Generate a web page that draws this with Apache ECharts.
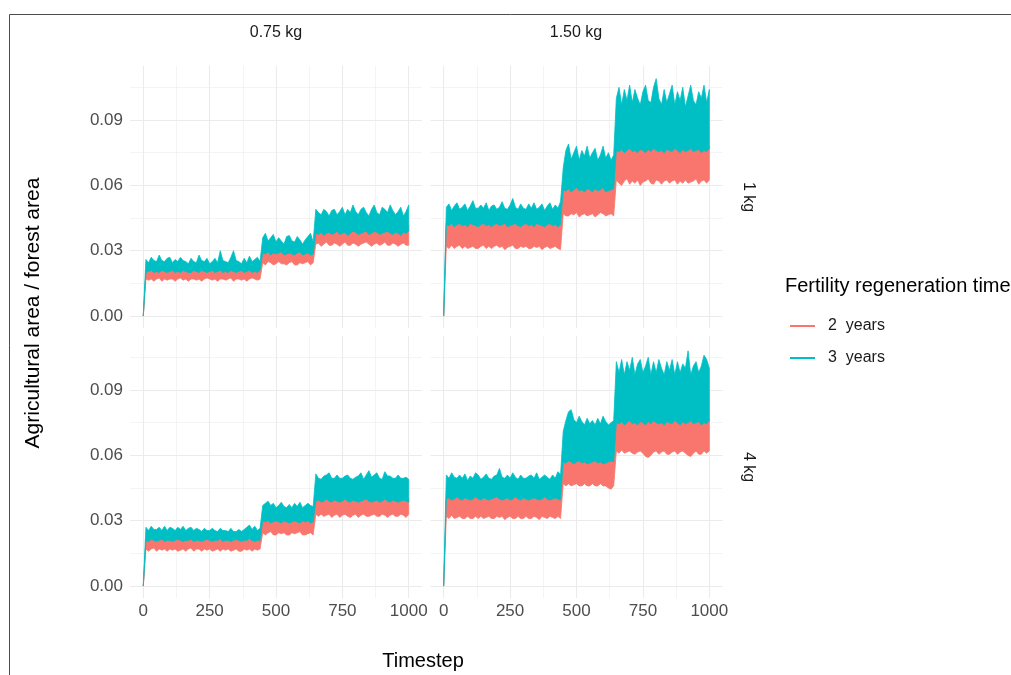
<!DOCTYPE html>
<html>
<head>
<meta charset="utf-8">
<script src="https://cdn.jsdelivr.net/npm/echarts@6/dist/echarts.min.js"></script>
<style>
  html, body { margin: 0; padding: 0; background: #fff; }
  #chart { width: 1011px; height: 675px; }
</style>
</head>
<body>
<div id="chart"></div>
<script>
// timesteps sampled every 10 steps, values below are in thousandths (x 0.001)
var timesteps = [0,10,20,30,40,50,60,70,80,90,100,110,120,130,140,150,160,170,180,190,200,
  210,220,230,240,250,260,270,280,290,300,310,320,330,340,350,360,370,380,390,400,
  410,420,430,440,450,460,470,480,490,500,510,520,530,540,550,560,570,580,590,600,
  610,620,630,640,650,660,670,680,690,700,710,720,730,740,750,760,770,780,790,800,
  810,820,830,840,850,860,870,880,890,900,910,920,930,940,950,960,970,980,990,1000];

var xTicks = [0, 250, 500, 750, 1000];
var xMinor = [125, 375, 625, 875];
var yTicks = [0, 0.03, 0.06, 0.09];
var yMinor = [0.015, 0.045, 0.075, 0.105];

var cols = ['0.75 kg', '1.50 kg'];
var rows = ['1 kg', '4 kg'];
var groups = ['2  years', '3  years'];

// panel 0.75 kg / 1 kg : lower and upper edge of each noisy trace
var aRedLo = [0,
  17,16.5,17,16,17,17.5,16,17,16.5,17, 17,16,17,17.5,16.5,17,16,17,17,16.5,
  17,16,17,17.5,17,16.5,17,16,17,17, 16.5,17,17.5,16,17,17,16.5,17,16,17, 17.5,17,16.5,17,
  24.5,23.5,25,24.5,23.5,24,25,24,24,23.5, 24.5,25,23.5,23.5,24.5,24,24.5,25,23.5,24.5,
  33,33.5,32,33,34,32.5,32.5,33.5,33,32, 33,34,32.5,32.5,33.5,33,32,33,33.5,34,
  33,32,33,33.5,32.5,33,34,32.5,32.5,33.5, 33,32,33,33.5,32.5,32.5];
var aRedHi = [0,
  21.5,22,21,21.5,22,21.5,21,22,21.5,21, 22,21.5,21,21.5,22,21,21.5,22,21.5,21,
  21.5,22,21,21.5,21,22,21.5,21,22,21.5, 21,21.5,22,21,21.5,22,21,21.5,22,21.5, 21,22,21.5,22,
  30.5,31,30,30.5,31,30,30.5,31,30.5,30, 31,30.5,30,31,30.5,30,31,30.5,30,31,
  40,40.5,39.5,40,41,40,39.5,40.5,40,41, 40,39.5,40.5,41,40,39.5,40,40.5,41,40,
  39.5,40.5,40,41,40,39.5,40.5,40,41,40, 39.5,40,40.5,41,40,41.5];
var aTealLo = [0,
  20,20.5,21,20,20.5,20,21,20.5,20,20.5, 21,20,20.5,20,21,20.5,20,20,21,20.5,
  20,21,20.5,20,20.5,21,20,20.5,21,20, 20.5,20,21,20.5,20,20.5,21,20,20.5,21, 20,20.5,20,21,
  29,28.5,29.5,28,29,28.5,29,29.5,28,28.5, 29,28.5,28,29,29.5,28,28.5,29,28,28.5,
  38,37.5,38.5,37,38,38.5,37.5,38,39,37.5, 38,38.5,37,38,39,38.5,37.5,38,38.5,39,
  37.5,38,39,38.5,37.5,38,38.5,39,38,37.5, 38.5,38,37,38.5,38,39];
var aTealHi = [0,
  26,24.5,27,25.5,25,28,25.5,25,26.5,27, 24.5,26,25,27,25.5,25,24,26.5,25,24.5,
  28,25.5,25,26.5,24,25,26.5,24.5,30,25.5, 25,24.5,27,30,25.5,25,24,26.5,24.5,27.5, 25,26,27,25,
  36,38,34.5,36,37.5,34,36,34.5,33,36.5, 37,34.5,34,36.5,35,33,35,36.5,38,34,
  49,47.5,46.5,49,48,46,48.5,49,46.5,48, 50,46.5,49,47.5,51,48,46.5,49,50,47.5,
  46,49,51,47.5,46.5,50,49,47.5,51,48.5, 46.5,48,50,46,48,51];

// panel 1.50 kg / 1 kg
var bRedLo = [0,
  32,31,32.5,31,32,32.5,31,32,31,31.5, 32,31,31,32,32.5,31,32,31,32,32.5,
  31.5,32,30.5,31.5,32,32.5,31,31,32,31.5, 32,31,31,32,31.5,32,30.5,31.5,32,31, 31.5,32,31,30.5,
  47,46,46,47,46.5,47.5,45.5,46.5,47,46, 46.5,47,45.5,46.5,47.5,47,46,46.5,47,46,
  62.5,61,60,62,63,60.5,62,61,62.5,60, 61.5,62,63,61,60.5,62.5,62,60.5,62,62.5,
  61,62,62.5,60.5,62,61,62.5,61,61.5,62, 63,60.5,62,62.5,61,62.5];
var bRedHi = [0,
  43,43.5,42.5,43,44,43,42.5,43.5,43,42.5, 43,44,43,42.5,43.5,43,42.5,43,43.5,44,
  43,42.5,43,43.5,42.5,43,44,43,42.5,43.5, 43,42.5,43,43.5,43,42.5,43,44,43,42.5, 43,43.5,43,42.5,
  60,61,60.5,60,61,59.5,60,60.5,61,60, 59.5,60,61,60.5,60,59.5,61,60,60.5,61,
  77.5,78,77,78.5,77.5,77,78,79,77.5,77, 78,77.5,77,78,77.5,78.5,77,77.5,78,77,
  77.5,78,78.5,77,77.5,78,77,77.5,78,78.5, 77,77.5,78,77,77.5,78];
var bTealLo = [0,
  42,41.5,42.5,41,42,42.5,41.5,42,41,42.5, 42,41.5,41,42,42.5,41.5,42,41,42,42.5,
  41.5,42,42.5,41,41.5,42,42.5,41.5,41,42, 42.5,41.5,42,41,42.5,42,41.5,41,42,42.5, 41.5,42,41,42,
  58,57.5,58.5,57,58,59,57.5,58,57,58.5, 58,57,58.5,57.5,58,59,57,57.5,58,58.5,
  76,75.5,76.5,75,76,77,75.5,76,75,76.5, 76,75,76.5,75.5,77,76,75.5,76,75,76.5,
  76,75.5,77,76,75,76.5,75.5,76,77,75.5, 76,76.5,75,76,75.5,77];
var bTealHi = [0,
  50,51.5,48.5,50.5,52,49,50,51.5,48.5,50.5, 53,49.5,49.5,51,49.5,52,48.5,50.5,51,49,
  50,52.5,49.5,49,51,54,50,49,51.5,49.5, 49,51.5,49.5,52,49,50,51.5,48.5,50.5,52, 49,51,49.5,52.5,
  68,76,79,72,75,78,71.5,76,73.5,78, 72.5,75,77,71.5,74,78,72.5,75,71.5,74,
  100,105,97,104,99,106,98,104,100,97, 103,106,99,98,105,109,100,97,104,98,
  102,106,97,103,99,105,96,101,106,99, 97,103,100,106,98,104];

// panel 0.75 kg / 4 kg
var cRedLo = [0,
  17,16,17,17.5,16,17,16.5,17,16,17, 16.5,17,16,16.5,17,16,17,17.5,16,17,
  17,16,17,16.5,17,16,16.5,17,16,17, 16.5,17,16,16.5,17,16,16,17,16.5,17, 16,17,16.5,17,
  24.5,23.5,24.5,25,23.5,23.5,24.5,24,24.5,23.5, 23.5,24.5,24,24.5,25,23.5,23.5,24,24.5,23.5,
  33,32,33,32,32.5,33,31.5,32.5,33,31.5, 32.5,33,32,31.5,32.5,33,31.5,32.5,33,32,
  32,32.5,33,32,32,33,32.5,31.5,32.5,33, 32,32,33,32.5,31.5,33];
var cRedHi = [0,
  21.5,22,21.5,21,22,21.5,22,21,21.5,22, 21.5,21,22,21.5,21,22,21.5,22,21,21.5,
  22,21.5,21,22,21.5,21,22,21.5,21,22, 21.5,21,22,21.5,22,21,21.5,22,21.5,21, 22,21.5,21,22,
  31,30.5,30,31,30.5,31,30,30.5,31,30.5, 30,31,30.5,30,31,30.5,30,31,30.5,31,
  41,41.5,40.5,41,42,41,40.5,41.5,41,40.5, 41,42,41,40.5,41.5,41,40.5,41,41.5,42,
  41,40.5,41,41.5,40.5,41,42,41,40.5,41.5, 41,40.5,41,41.5,41,40.5];
var cTealLo = [0,
  21,20.5,21.5,21,20.5,21,21.5,20.5,21,21, 20.5,21,21.5,21,20.5,21,21,21.5,20.5,21,
  21,20.5,21,21.5,21,20.5,21,21,21.5,20.5, 21,21,20.5,21,21.5,21,20.5,21,21,21.5, 21,20.5,21,21,
  30,29.5,30,29,29.5,30,29.5,29,30,29.5, 29,29.5,30,29.5,29,30,29.5,30,29,29.5,
  39,39.5,38.5,39,40,39,38.5,39.5,39,38.5, 39,40,39,38.5,39.5,39,38.5,39,39.5,40,
  39,38.5,39,39.5,38.5,39,40,39,38.5,39.5, 39,38.5,39,39.5,39,38.5];
var cTealHi = [0,
  27,25.5,27.5,26,26,27,25.5,27.5,25.5,27, 26.5,25.5,27,26,27.5,25.5,26.5,27,25.5,26.5,
  26,25,26.5,25.5,25.5,26.5,25.5,25,26.5,25.5, 25.5,25,26.5,25,25,26,25,26,27,28, 26,27.5,25.5,26.5,
  37,38,39,37,38,36,37,38.5,36.5,36, 37.5,36,38,36.5,38.5,36,37,38,37,36.5,
  51.5,49.5,49,50.5,51,52,49.5,49.5,51,49.5, 49.5,50.5,51,49.5,49,50,50.5,52,49,51,
  53,50,51,52,49.5,49,52.5,50.5,50.5,49.5, 49.5,51,49.5,49.5,50,49];

// panel 1.50 kg / 4 kg
var dRedLo = [0,
  32,31,32.5,31,31.5,32,31,31,32,31, 31,32,31,32,31,31.5,32,31,31,32,
  31.5,32,30.5,31.5,32,31,31,32,31,31, 32,31,31,32,31.5,30.5,32,31.5,31,32, 31.5,31,32,31,
  47,46,47,46,46.5,47,46,46,47,46, 46,47,46,46,47,46,46,45,44.5,46,
  62,61,62.5,61,61.5,62,61,60.5,61.5,62, 61,59.5,59,60,61.5,62,60.5,61.5,62,60.5,
  60.5,61.5,62,60.5,61.5,62,61,60,59.5,61, 62,60.5,60.5,62,61,62];
var dRedHi = [0,
  41.5,42,41,41.5,42,41.5,41,42,41.5,41, 42,41.5,41,42,41.5,42,41,41.5,42,41.5,
  41,42,41.5,41,42,41.5,41,42,41.5,42, 41,41.5,42,41.5,41,42,41.5,41,42,41.5, 41,42,41.5,42,
  59,59.5,58.5,59,60,59,58.5,59.5,59,58.5, 59,60,59,58.5,59.5,59,58.5,59,59.5,60,
  77,77.5,76.5,77,78,77,76.5,77.5,77,76.5, 77,78,77,76.5,77.5,77,76.5,77,77.5,78,
  77,76.5,77,77.5,76.5,77,78,77,76.5,77.5, 77,76.5,77,77.5,77,76.5];
var dTealLo = [0,
  40,40.5,39.5,40,41,40,39.5,40.5,40,39.5, 40,41,40,39.5,40.5,40,39.5,40,40.5,41,
  40,39.5,40,40.5,39.5,40,41,40,39.5,40.5, 40,39.5,40,40.5,40,39.5,40,41,40,39.5, 40,40.5,40,39.5,
  57,56.5,57.5,57,56,57,57.5,56.5,57,56, 56.5,57,57.5,56.5,57,56,56.5,57,57.5,57,
  75,74.5,75.5,74,75,76,74.5,75,74,75.5, 75,74,75.5,74.5,76,75,74.5,75,74,75.5,
  75,74.5,76,75,74,75.5,74.5,75,76,74.5, 75,75.5,74,75,74.5,76];
var dTealHi = [0,
  51,49.5,52,50,49.5,51,49.5,51.5,48.5,50.5, 49.5,52,51,49,50,51.5,49.5,49,50.5,51,
  54,50,49.5,51,49.5,52,50,49,51,49.5, 49.5,50.5,51,49.5,52,49,50,51,50,49, 51,49.5,52.5,51,
  71,76,80,81,76.5,75,78,75.5,74,77, 74.5,76,74,77,74.5,78,75.5,74,75,76,
  103,98,104,97,103,99,105,97,102,104, 98,101,105,97,103,98,104,100,97,103,
  99,104,97,103,98,102,100,108,97,101, 103,98,101,106,104,100];

var panels = [
  { red: [aRedLo, aRedHi], teal: [aTealLo, aTealHi] },
  { red: [bRedLo, bRedHi], teal: [bTealLo, bTealHi] },
  { red: [cRedLo, cRedHi], teal: [cTealLo, cTealHi] },
  { red: [dRedLo, dRedHi], teal: [dTealLo, dTealHi] }
];

var colors = ['#F8766D', '#00BFC4'];
var font = '"Liberation Sans", Arial, sans-serif';
var gridColor = '#EBEBEB';

var grids = [
  { left: 130, top: 66, width: 292, height: 262 },
  { left: 430.4, top: 66, width: 292.2, height: 262 },
  { left: 130, top: 336, width: 292, height: 262 },
  { left: 430.4, top: 336, width: 292.2, height: 262 }
];

function band(lo, hi, color) {
  return function (params, api) {
    var pts = [];
    for (var i = 0; i < timesteps.length; i++) pts.push(api.coord([timesteps[i], hi[i] / 1000]));
    for (var j = timesteps.length - 1; j >= 0; j--) pts.push(api.coord([timesteps[j], lo[j] / 1000]));
    return {
      type: 'polygon',
      shape: { points: pts },
      style: { fill: color, stroke: color, lineWidth: 0.8 }
    };
  };
}

var xAxes = [], yAxes = [], series = [];
grids.forEach(function (g, i) {
  var bottomRow = i >= 2, leftCol = i % 2 === 0;
  xAxes.push({
    gridIndex: i, type: 'value', min: -50, max: 1050,
    axisLine: { show: false },
    axisTick: { show: false, customValues: xTicks },
    axisLabel: { show: bottomRow, customValues: xTicks, color: '#4D4D4D', fontSize: 17, fontFamily: font, margin: 5,
      formatter: function (v) { return String(v); } },
    splitLine: { show: true, lineStyle: { color: gridColor, width: 1.1 } }
  });
  xAxes.push({
    gridIndex: i, type: 'value', min: -50, max: 1050,
    axisLine: { show: false },
    axisTick: { show: false, customValues: xMinor },
    axisLabel: { show: false },
    splitLine: { show: true, lineStyle: { color: gridColor, width: 0.55 } }
  });
  yAxes.push({
    gridIndex: i, type: 'value', min: -0.00547, max: 0.1148,
    axisLine: { show: false },
    axisTick: { show: false, customValues: yTicks },
    axisLabel: { show: leftCol, customValues: yTicks, color: '#4D4D4D', fontSize: 17, fontFamily: font, margin: 7,
      formatter: function (v) { return v.toFixed(2); } },
    splitLine: { show: true, lineStyle: { color: gridColor, width: 1.1 } }
  });
  yAxes.push({
    gridIndex: i, type: 'value', min: -0.00547, max: 0.1148,
    axisLine: { show: false },
    axisTick: { show: false, customValues: yMinor },
    axisLabel: { show: false },
    splitLine: { show: true, lineStyle: { color: gridColor, width: 0.55 } }
  });
  var p = panels[i];
  [p.red, p.teal].forEach(function (edges, k) {
    series.push({
      name: groups[k], type: 'custom',
      xAxisIndex: 2 * i, yAxisIndex: 2 * i,
      itemStyle: { color: colors[k] },
      renderItem: band(edges[0], edges[1], colors[k]),
      data: [[0, 0]],
      z: 2 + k
    });
  });
});

var stripStyle = { fill: '#1A1A1A', fontSize: 16, fontFamily: font, align: 'center', verticalAlign: 'middle' };
var graphics = [
  { type: 'rect', shape: { x: 9.5, y: 14.5, width: 1100, height: 700 }, style: { fill: 'none', stroke: '#4D4D4D', lineWidth: 1 }, silent: true },
  { type: 'text', x: 276, y: 33, style: Object.assign({ text: cols[0] }, stripStyle) },
  { type: 'text', x: 576, y: 33, style: Object.assign({ text: cols[1] }, stripStyle) },
  { type: 'text', x: 748, y: 197, rotation: -Math.PI / 2, style: Object.assign({ text: rows[0] }, stripStyle) },
  { type: 'text', x: 748, y: 467, rotation: -Math.PI / 2, style: Object.assign({ text: rows[1] }, stripStyle) },
  { type: 'text', x: 33, y: 313, rotation: Math.PI / 2,
    style: { text: 'Agricultural area / forest area', fill: '#000', fontSize: 21, fontFamily: font, align: 'center', verticalAlign: 'middle' } },
  { type: 'text', x: 423, y: 661,
    style: { text: 'Timestep', fill: '#000', fontSize: 20, fontFamily: font, align: 'center', verticalAlign: 'middle' } },
  { type: 'text', x: 785, y: 286,
    style: { text: 'Fertility regeneration time', fill: '#000', fontSize: 20, fontFamily: font, align: 'left', verticalAlign: 'middle' } }
];

var chart = echarts.init(document.getElementById('chart'));
chart.setOption({
  animation: false,
  backgroundColor: '#fff',
  grid: grids,
  xAxis: xAxes,
  yAxis: yAxes,
  legend: {
    orient: 'vertical', left: 790, top: 318, padding: 0,
    data: groups, icon: 'rect', itemWidth: 25, itemHeight: 2, itemGap: 16,
    textStyle: { fontSize: 16, color: '#1A1A1A', fontFamily: font, padding: [0, 0, 0, 8] }
  },
  graphic: graphics,
  series: series
});
</script>
</body>
</html>
